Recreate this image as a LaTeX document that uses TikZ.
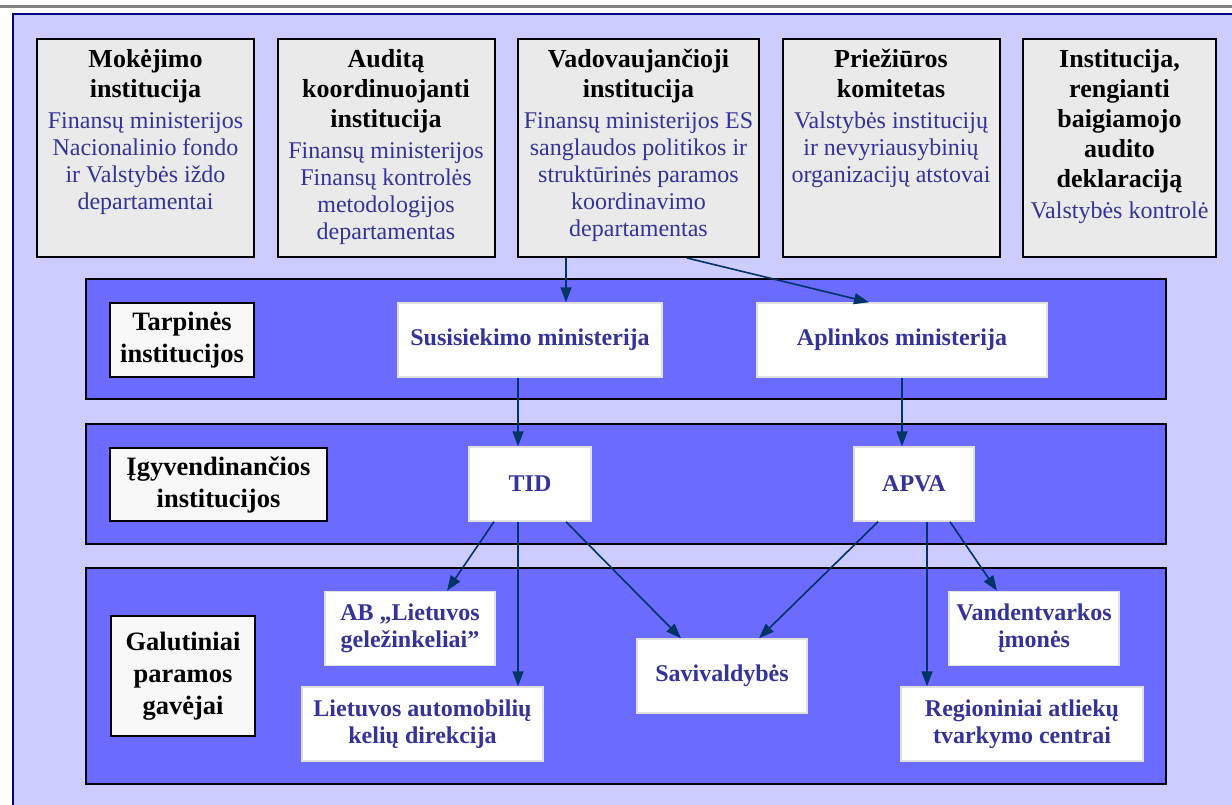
\documentclass[tikz,border=0pt]{standalone}
\usepackage{fontspec}
\setmainfont{Liberation Serif}
\usetikzlibrary{positioning,arrows.meta}

\definecolor{framelilac}{HTML}{CCCCFF}
\definecolor{framenavy}{HTML}{000080}
\definecolor{bandblue}{HTML}{6B6BFF}
\definecolor{topgray}{HTML}{EAEAEA}
\definecolor{labelgray}{HTML}{F8F8F8}
\definecolor{textblue}{HTML}{333399}
\definecolor{arrowblue}{HTML}{003366}

\newcommand{\boxtitle}[1]{{\color{black}\bfseries\fontsize{26}{27}\selectfont #1}}

\begin{document}
\begin{tikzpicture}[x=1pt, y=-1pt,
		node distance=21.5pt,
		topbox/.style={draw=black, line width=2pt, fill=topgray, minimum height=218pt, inner sep=0pt},
		toptext/.style={align=center, inner sep=0pt, text=textblue, font=\fontsize{24}{27}\selectfont},
		band/.style={draw=black, line width=2pt, fill=bandblue, minimum width=1080pt, inner sep=0pt},
		levelbox/.style={draw=black, line width=2pt, fill=labelgray, align=center, inner sep=0pt, font=\bfseries\fontsize{26.5}{32}\selectfont},
		unitbox/.style={draw=black!12, line width=1.5pt, fill=white, align=center, inner sep=0pt, text=textblue, minimum height=74pt, font=\bfseries\fontsize{24}{27}\selectfont},
		arr/.style={draw=arrowblue, line width=1.6pt, -{Triangle[length=15pt,width=11pt]}},
	]
	\useasboundingbox (0,0) rectangle (1232,805);

	%Frame
	\fill[white] (0,0) rectangle (1232,805);
	\draw[gray, line width=3pt] (0,7) -- (1232,7);
	\fill[framelilac] (13,14) rectangle (1232,805);
	\draw[framenavy, line width=2pt] (13,805) -- (13,14) -- (1232,14);

	%Top row
	\node[topbox, minimum width=217pt] (mok) at (145.5,148) {};
	\node[topbox, minimum width=217pt, right=of mok] (aud) {};
	\node[topbox, minimum width=241pt, right=of aud] (vad) {};
	\node[topbox, minimum width=217pt, right=of vad] (pri) {};
	\node[topbox, minimum width=193pt, right=of pri] (ins) {};

	\node[toptext, below=11pt of mok.north] (mokT) {\boxtitle{Mokėjimo}\\[3pt]\boxtitle{institucija}\\[4pt]Finansų ministerijos\\Nacionalinio fondo\\ir Valstybės iždo\\departamentai};
	\node[toptext, below=11pt of aud.north] (audT) {\boxtitle{Auditą}\\[3pt]\boxtitle{koordinuojanti}\\[3pt]\boxtitle{institucija}\\[4pt]Finansų ministerijos\\Finansų kontrolės\\metodologijos\\departamentas};
	\node[toptext, below=11pt of vad.north] (vadT) {\boxtitle{Vadovaujančioji}\\[3pt]\boxtitle{institucija}\\[4pt]Finansų ministerijos ES\\sanglaudos politikos ir\\struktūrinės paramos\\koordinavimo\\departamentas};
	\node[toptext, below=11pt of pri.north] (priT) {\boxtitle{Priežiūros}\\[3pt]\boxtitle{komitetas}\\[4pt]Valstybės institucijų\\ir nevyriausybinių\\organizacijų atstovai};
	\node[toptext, below=11pt of ins.north] (insT) {\boxtitle{Institucija,}\\[3pt]\boxtitle{rengianti}\\[3pt]\boxtitle{baigiamojo}\\[3pt]\boxtitle{audito}\\[3pt]\boxtitle{deklaraciją}\\[4pt]Valstybės kontrolė};

	%Bands
	\node[band, minimum height=120pt] (bandA) at (626,339) {};
	\node[band, minimum height=120pt] (bandB) at (626,484) {};
	\node[band, minimum height=216pt] (bandC) at (626,676) {};

	\node[levelbox, minimum width=144pt, minimum height=74pt] (lvlA) at (182,340) {Tarpinės\\institucijos};
	\node[levelbox, minimum width=217pt, minimum height=73pt] (lvlB) at (218.5,484.5) {Įgyvendinančios\\institucijos};
	\node[levelbox, minimum width=144pt, minimum height=120pt] (lvlC) at (183,676) {Galutiniai\\paramos\\gavėjai};

	%Units
	\node[unitbox, minimum width=264pt] (sus) at (530,340) {Susisiekimo ministerija};
	\node[unitbox, minimum width=290pt] (apl) at (902,340) {Aplinkos ministerija};
	\node[unitbox, minimum width=122pt] (tid) at (530,484) {TID};
	\node[unitbox, minimum width=120pt] (apva) at (914,484) {APVA};
	\node[unitbox, minimum width=170pt] (ab) at (410,628.5) {AB „Lietuvos\\geležinkeliai”};
	\node[unitbox, minimum width=241pt] (lak) at (422.5,724) {Lietuvos automobilių\\kelių direkcija};
	\node[unitbox, minimum width=170pt] (sav) at (722,676) {Savivaldybės};
	\node[unitbox, minimum width=170pt] (van) at (1034,628.5) {Vandentvarkos\\įmonės};
	\node[unitbox, minimum width=242pt] (reg) at (1022,724) {Regioniniai atliekų\\tvarkymo centrai};

	%Lines
	\draw[arr] ([xshift=-72.5pt]vad.south) -- ([xshift=-72.5pt]vad.south |- sus.north);
	\draw[arr] ([xshift=48.5pt]vad.south) -- ([xshift=-33pt]apl.north);
	\draw[arr] ([xshift=-12pt]sus.south) -- ([xshift=-12pt]tid.north);
	\draw[arr] (apl.south) -- (apl.south |- apva.north);
	\draw[arr] ([xshift=-36pt]tid.south) -- ([xshift=37pt]ab.north);
	\draw[arr] ([xshift=-12pt]tid.south) -- ([xshift=-12pt]tid.south |- lak.north);
	\draw[arr] ([xshift=36pt]tid.south) -- ([xshift=-41pt]sav.north);
	\draw[arr] ([xshift=-36pt]apva.south) -- ([xshift=37pt]sav.north);
	\draw[arr] ([xshift=13pt]apva.south) -- ([xshift=13pt]apva.south |- reg.north);
	\draw[arr] ([xshift=36pt]apva.south) -- ([xshift=-37pt]van.north);

\end{tikzpicture}
\end{document}
